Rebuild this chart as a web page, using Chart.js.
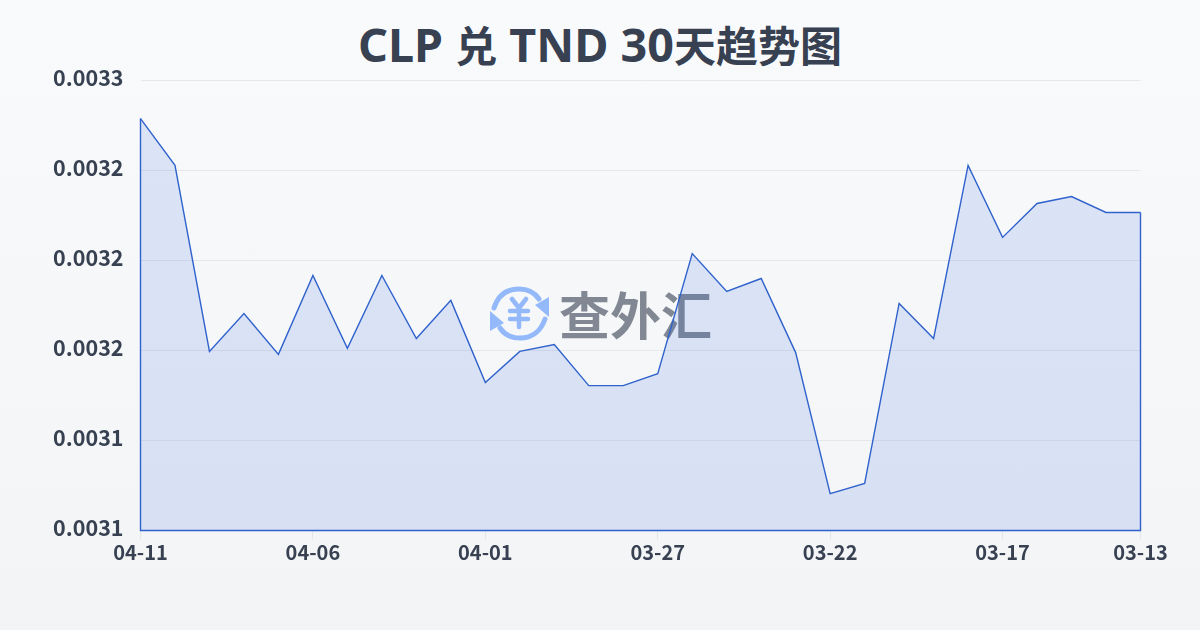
<!DOCTYPE html>
<html><head><meta charset="utf-8">
<style>
html,body{margin:0;padding:0;width:1200px;height:630px;overflow:hidden;background:linear-gradient(180deg,#f8fafc 0%,#f3f4f6 100%);}
#wrap{position:relative;width:1200px;height:630px;font-family:"Noto Sans CJK SC",sans-serif;}
#title{position:absolute;left:0;top:14px;width:1200px;text-align:center;font-size:42px;font-weight:700;color:#374151;line-height:60px;white-space:pre;}
#title b{font-family:"Noto Sans","Noto Sans CJK SC";font-size:46.7px;font-weight:700;}
#mark{position:absolute;left:489px;top:284px;width:230px;height:60px;}
#mark span{position:absolute;left:70px;top:-4px;font-family:"Noto Sans CJK SC";font-weight:700;font-size:51px;line-height:66px;color:#4b5563;opacity:.68;white-space:pre;}
canvas{position:absolute;left:0;top:0;}
</style>
<script src="https://cdn.jsdelivr.net/npm/chart.js@4"></script>
</head><body><div id="wrap">
<div id="mark">
<svg width="62" height="60" viewBox="0 0 62 60" style="position:absolute;left:0;top:0" fill="none" stroke="#93b9fb" stroke-width="5" stroke-linecap="round" stroke-linejoin="round">
<path d="M5 24C9 11 18 5 30 5C39 5 46 9 50 15"/><path d="M56 35C52 47 43 54 31 54C22 54 15 50 11 44"/>
<path d="M46 21L60 13L60 33Z" fill="#93b9fb" stroke="none"/><path d="M1 27L15 39L1 47Z" fill="#93b9fb" stroke="none"/>
<path d="M23 15L30 24L37 15M30 24V43M21 27H39M21 35H39" stroke-width="4.5"/></svg>
<span>查外汇</span></div>
<div id="title"><b>CLP </b>兑<b> TND 30</b>天趋势图</div>
<canvas id="c" width="1200" height="630"></canvas></div>
<script>
const categories=["04-11","04-10","04-09","04-08","04-07","04-06","04-05","04-04","04-03","04-02","04-01","03-31","03-30","03-29","03-28","03-27","03-26","03-25","03-24","03-23","03-22","03-21","03-20","03-19","03-18","03-17","03-16","03-15","03-14","03-13"];
const rates=[0.0032473,0.0032317,0.0031697,0.0031823,0.0031687,0.003195,0.0031707,0.003195,0.003174,0.0031867,0.0031593,0.0031697,0.003172,0.0031583,0.0031583,0.0031623,0.0032023,0.0031897,0.003194,0.0031693,0.0031223,0.0031257,0.0031857,0.003174,0.0032317,0.0032077,0.003219,0.0032213,0.003216,0.003216];
const shownLabels=["04-11","04-06","04-01","03-27","03-22","03-17","03-13"];
const yMin=0.00311,yMax=0.00326,yStep=0.00003;
const lineColor="#2f62cc",fillColor="rgba(59,110,220,0.15)";
const outline={id:"outline",afterDatasetsDraw(ch){
 const pts=ch.getDatasetMeta(0).data,a=ch.chartArea,x=ch.ctx;
 x.save();x.strokeStyle=lineColor;x.lineWidth=1.4;x.beginPath();
 x.moveTo(pts[0].x,pts[0].y);x.lineTo(a.left,a.bottom);x.lineTo(a.right,a.bottom);x.lineTo(pts[pts.length-1].x,pts[pts.length-1].y);
 x.stroke();x.restore();}};
new Chart(document.getElementById("c"),{type:"line",
 data:{labels:categories,datasets:[{data:rates,borderColor:lineColor,borderWidth:1.4,backgroundColor:fillColor,fill:"start",tension:0,pointRadius:0}]},
 plugins:[outline],
 options:{responsive:false,animation:false,
  layout:{padding:{left:0,right:59.5,top:80.5,bottom:0}},
  plugins:{legend:{display:false},tooltip:{enabled:false},title:{display:false}},
  scales:{
   x:{afterFit(s){s.height=99.5;},border:{display:false},
      grid:{drawOnChartArea:false,drawTicks:true,tickLength:9,color:c=>shownLabels.includes(categories[c.index])?"#e2e5ea":"transparent"},
      ticks:{autoSkip:false,maxRotation:0,minRotation:0,padding:1,color:"#374151",font:{family:'"Noto Sans CJK SC"',size:20,weight:"bold"},
       callback(v,i){const l=categories[i];return shownLabels.includes(l)?l:"";}}},
   y:{min:yMin,max:yMax,afterFit(s){s.width=140.5;},border:{display:false},
      grid:{drawTicks:false,color:"#e5e7eb",lineWidth:1},
      ticks:{stepSize:yStep,padding:17,labelOffset:-3,color:"#374151",font:{family:'"Noto Sans CJK SC"',size:21.5,weight:"bold"},callback:v=>v.toFixed(4)}}
  }}});
</script></body></html>
